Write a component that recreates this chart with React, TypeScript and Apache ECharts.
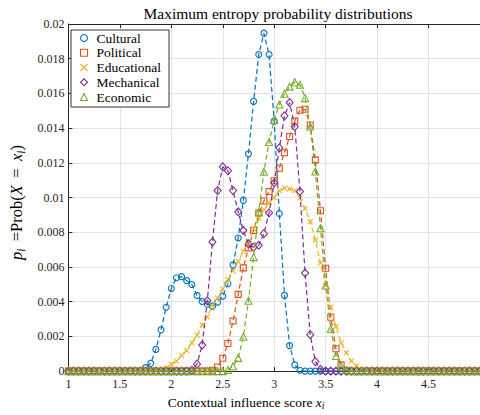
import React, { useEffect, useRef } from "react";
import * as echarts from "echarts";

const xValues = [
  1, 1.05, 1.1, 1.15, 1.2, 1.25, 1.3, 1.35, 1.4, 1.45,
  1.5, 1.55, 1.6, 1.65, 1.7, 1.75, 1.8, 1.85, 1.9, 1.95,
  2, 2.05, 2.1, 2.15, 2.2, 2.25, 2.3, 2.35, 2.4, 2.45,
  2.5, 2.55, 2.6, 2.65, 2.7, 2.75, 2.8, 2.85, 2.9, 2.95,
  3, 3.05, 3.1, 3.15, 3.2, 3.25, 3.3, 3.35, 3.4, 3.45,
  3.5, 3.55, 3.6, 3.65, 3.7, 3.75, 3.8, 3.85, 3.9, 3.95,
  4, 4.05, 4.1, 4.15, 4.2, 4.25, 4.3, 4.35, 4.4, 4.45,
  4.5, 4.55, 4.6, 4.65, 4.7, 4.75, 4.8, 4.85, 4.9, 4.95,
  5,
];

const cultural = [
  0, 0, 0, 0, 0, 0, 0, 0, 0, 0,
  0, 0, 0, 0, 0, 0.0002, 0.00045, 0.00125, 0.00238, 0.00368,
  0.00476, 0.00538, 0.00544, 0.00521, 0.00499, 0.00436, 0.00402, 0.00385, 0.00374, 0.00397,
  0.00432, 0.00504, 0.00612, 0.00767, 0.00984, 0.01252, 0.01554, 0.01824, 0.01947, 0.01824,
  0.0144, 0.00908, 0.00436, 0.00147, 0.00036, 0.00005, 0, 0, 0, 0,
  0, 0, 0, 0, 0, 0, 0, 0, 0, 0,
  0, 0, 0, 0, 0, 0, 0, 0, 0, 0,
  0, 0, 0, 0, 0, 0, 0, 0, 0, 0,
  0,
];

const political = [
  0, 0, 0, 0, 0, 0, 0, 0, 0, 0,
  0, 0, 0, 0, 0, 0, 0, 0, 0, 0,
  0, 0, 0, 0, 0, 0, 0, 0, 0.00005, 0.00024,
  0.00074, 0.00159, 0.00289, 0.00442, 0.00595, 0.0071, 0.0081, 0.0091, 0.0098, 0.01035,
  0.01097, 0.01169, 0.01258, 0.01352, 0.01441, 0.01503, 0.01509, 0.01418, 0.01217, 0.00924,
  0.00593, 0.0031, 0.00129, 0.00036, 0.00005, 0, 0, 0, 0, 0,
  0, 0, 0, 0, 0, 0, 0, 0, 0, 0,
  0, 0, 0, 0, 0, 0, 0, 0, 0, 0,
  0,
];

const educational = [
  0, 0, 0, 0, 0, 0, 0, 0, 0, 0,
  0, 0, 0, 0, 0, 0, 0, 0.00005, 0.0001, 0.0002,
  0.0004, 0.00058, 0.0009, 0.0012, 0.00163, 0.00206, 0.00266, 0.00313, 0.00376, 0.00421,
  0.00474, 0.00527, 0.00578, 0.00631, 0.0069, 0.0074, 0.0082, 0.0088, 0.0093, 0.0097,
  0.01, 0.0104, 0.01054, 0.0105, 0.0104, 0.00999, 0.00937, 0.00861, 0.00754, 0.00622,
  0.00493, 0.0037, 0.00257, 0.00163, 0.00106, 0.00058, 0.0003, 0.0001, 0.00003, 0,
  0, 0, 0, 0, 0, 0, 0, 0, 0, 0,
  0, 0, 0, 0, 0, 0, 0, 0, 0, 0,
  0,
];

const mechanical = [
  0, 0, 0, 0, 0, 0, 0, 0, 0, 0,
  0, 0, 0, 0, 0, 0, 0, 0, 0, 0,
  0, 0, 0, 0, 0.00005, 0.0004, 0.0015, 0.00405, 0.00744, 0.0104,
  0.01177, 0.01154, 0.0104, 0.00918, 0.0081, 0.00733, 0.00714, 0.00725, 0.00792, 0.00912,
  0.01085, 0.01286, 0.01471, 0.01547, 0.01409, 0.01035, 0.00565, 0.0021, 0.00055, 0.0001,
  0, 0, 0, 0, 0, 0, 0, 0, 0, 0,
  0, 0, 0, 0, 0, 0, 0, 0, 0, 0,
  0, 0, 0, 0, 0, 0, 0, 0, 0, 0,
  0,
];

const economic = [
  0, 0, 0, 0, 0, 0, 0, 0, 0, 0,
  0, 0, 0, 0, 0, 0, 0, 0, 0, 0,
  0, 0, 0, 0, 0, 0, 0, 0, 0, 0,
  0, 0.00007, 0.00028, 0.00076, 0.00198, 0.00405, 0.00657, 0.00918, 0.01149, 0.0132,
  0.01447, 0.01536, 0.01598, 0.01639, 0.01664, 0.0165, 0.01573, 0.01409, 0.0115, 0.00823,
  0.00493, 0.00244, 0.00087, 0.00027, 0.00005, 0, 0, 0, 0, 0,
  0, 0, 0, 0, 0, 0, 0, 0, 0, 0,
  0, 0, 0, 0, 0, 0, 0, 0, 0, 0,
  0,
];

const seriesNames = ["Cultural", "Political", "Educational", "Mechanical", "Economic"];
const seriesColors = ["#0072BD", "#D95319", "#EDB120", "#7E2F8E", "#77AC30"];
const seriesSymbols = [
  "circle",
  "rect",
  "path://M0,0L10,10M10,0L0,10",
  "path://M5,0L10,5L5,10L0,5Z",
  "triangle",
];
const seriesSymbolSizes: (number | number[])[] = [6, 6, 5, [7, 8], 7];
const seriesData = [cultural, political, educational, mechanical, economic];

const FONT = "Liberation Serif";
const AXIS_COLOR = "#262626";

export default function App() {
  const ref = useRef<HTMLDivElement>(null);

  useEffect(() => {
    if (!ref.current) return;
    const chart = echarts.init(ref.current, null, { renderer: "svg" });

    const series = seriesNames.map((name, k) => ({
      name,
      type: "line",
      data: xValues.map((x, i) => [x, seriesData[k][i]]),
      symbol: seriesSymbols[k],
      symbolSize: seriesSymbolSizes[k],
      showAllSymbol: true,
      clip: false,
      lineStyle: { color: seriesColors[k], width: 1.2, type: [5, 3] },
      itemStyle: { color: "rgba(0,0,0,0)", borderColor: seriesColors[k], borderWidth: 1.1 },
      emphasis: { disabled: true },
      z: 2 + k,
    }));

    chart.setOption({
      animation: false,
      backgroundColor: "#ffffff",
      title: {
        text: "Maximum entropy probability distributions",
        left: 273,
        top: 0,
        textAlign: "center",
        textStyle: { fontFamily: FONT, fontSize: 15.5, fontWeight: "normal", color: "#000" },
      },
      legend: {
        orient: "vertical",
        left: 71,
        top: 30,
        padding: [1, 8, 3, 9],
        itemGap: 0.75,
        itemWidth: 7,
        itemHeight: 7,
        backgroundColor: "#ffffff",
        borderColor: "#333333",
        borderWidth: 1,
        borderRadius: 0,
        textStyle: { fontFamily: FONT, fontSize: 13.5, color: "#000", lineHeight: 14, padding: [0, 0, 0, 4] },
        data: seriesNames.map((n, k) => ({
          name: n,
          icon: seriesSymbols[k],
          itemStyle: { borderWidth: 1.1 },
        })),
        selectedMode: false,
      },
      grid: { left: 65, top: 24, right: -4, bottom: 38, containLabel: false },
      xAxis: [
        {
          type: "value",
          min: 1,
          max: 5,
          interval: 0.5,
          name: "Contextual influence score {it|x}{sub|i}",
          nameLocation: "middle",
          nameGap: 20,
          nameTextStyle: {
            fontFamily: FONT,
            fontSize: 13.5,
            color: "#000",
            padding: [0, 56, 0, 0],
            rich: {
              it: { fontFamily: FONT, fontSize: 13.5, fontStyle: "italic", color: "#000" },
              sub: { fontFamily: FONT, fontSize: 10, fontStyle: "italic", color: "#000", padding: [6, 0, 0, 0] },
            },
          },
          axisLine: { show: true, lineStyle: { color: AXIS_COLOR, width: 1 } },
          axisTick: { show: true, inside: true, length: 4, lineStyle: { color: AXIS_COLOR } },
          axisLabel: {
            margin: 7,
            showMaxLabel: false,
            fontFamily: FONT,
            fontSize: 12,
            color: AXIS_COLOR,
          },
          splitLine: { show: true, lineStyle: { color: "#e3e3e3", width: 1 } },
        },
        {
          type: "value",
          position: "top",
          min: 1,
          max: 5,
          interval: 0.5,
          axisLine: { show: true, onZero: false, lineStyle: { color: AXIS_COLOR, width: 1 } },
          axisTick: { show: true, inside: true, length: 4, lineStyle: { color: AXIS_COLOR } },
          axisLabel: { show: false },
          splitLine: { show: false },
        },
      ],
      yAxis: [
        {
          type: "value",
          min: 0,
          max: 0.02,
          interval: 0.002,
          name: "{it|p}{sub|i}\u2009 =Prob({it|X}\u2009 = \u2009{it|x}{sub|i})",
          nameLocation: "middle",
          nameRotate: 90,
          nameGap: 37,
          nameTextStyle: {
            fontFamily: FONT,
            fontSize: 16.5,
            color: "#000",
            padding: [0, 10, 0, 0],
            rich: {
              it: { fontFamily: FONT, fontSize: 16.5, fontStyle: "italic", color: "#000" },
              sub: { fontFamily: FONT, fontSize: 11.5, fontStyle: "italic", color: "#000", padding: [8, 0, 0, 0] },
            },
          },
          axisLine: { show: true, lineStyle: { color: AXIS_COLOR, width: 1 } },
          axisTick: { show: true, inside: true, length: 4, lineStyle: { color: AXIS_COLOR } },
          axisLabel: {
            margin: 4,
            fontFamily: FONT,
            fontSize: 12,
            color: AXIS_COLOR,
          },
          splitLine: { show: true, lineStyle: { color: "#e3e3e3", width: 1 } },
        },
      ],
      series,
    });

    return () => {
      chart.dispose();
    };
  }, []);

  return (
    <div
      ref={ref}
      style={{ position: "fixed", left: 0, top: 0, width: 480, height: 415, background: "#fff" }}
    />
  );
}
